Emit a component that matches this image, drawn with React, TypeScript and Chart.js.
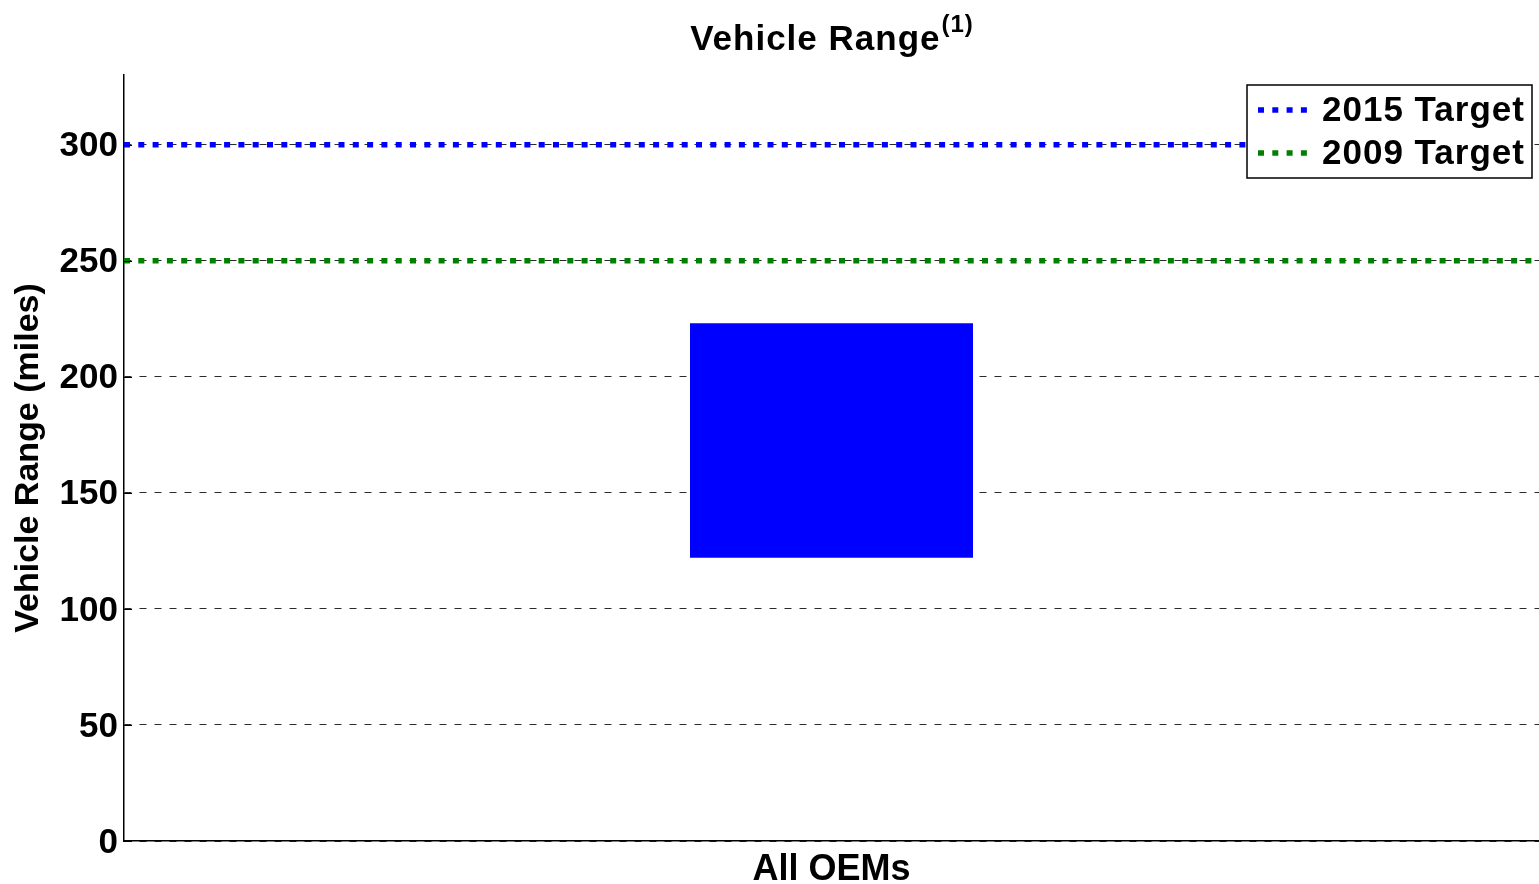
import React, { useEffect, useRef } from 'react';
import { Chart, registerables } from 'chart.js';

Chart.register(...registerables);

// ---- data ----
const categories = ['All OEMs'];
const rangeLow = [122];
const rangeHigh = [223];
const targetLabels = ['2015 Target', '2009 Target'];
const targetValues = [300, 250];
const targetColors = ['#0000ff', '#008000'];
const barColor = '#0000ff';
const yMin = 0;
const yMax = 330;
const yStep = 50;
const chartTitle = 'Vehicle Range';
const titleNote = '(1)';
const yAxisTitle = 'Vehicle Range (miles)';

const FONT = '"Liberation Sans", Arial, Helvetica, sans-serif';

const decorPlugin = {
  id: 'decor',
  afterDatasetsDraw(chart: any) {
    const { ctx, chartArea, scales } = chart;
    const y = scales.y;
    ctx.save();
    // inward tick marks on the y axis
    ctx.strokeStyle = '#000';
    ctx.lineWidth = 1;
    y.ticks.forEach((t: any) => {
      const py = Math.round(y.getPixelForValue(t.value)) + 0.5;
      ctx.beginPath();
      ctx.moveTo(chartArea.left, py);
      ctx.lineTo(chartArea.left + 8, py);
      ctx.stroke();
    });

    // title with superscript
    const cx = (chartArea.left + chartArea.right) / 2;
    ctx.fillStyle = '#000';
    ctx.textBaseline = 'alphabetic';
    ctx.textAlign = 'left';
    (ctx as any).letterSpacing = '1px';
    const mainFont = `bold 35px ${FONT}`;
    const supFont = `bold 24px ${FONT}`;
    ctx.font = mainFont;
    const w1 = ctx.measureText(chartTitle).width;
    ctx.font = supFont;
    const w2 = ctx.measureText(titleNote).width;
    const x0 = cx - (w1 + w2) / 2;
    ctx.font = mainFont;
    ctx.fillText(chartTitle, x0, 50);
    ctx.font = supFont;
    ctx.fillText(titleNote, x0 + w1 + 1, 32);

    // legend box
    const lines = chart.data.datasets.filter((d: any) => d.type === 'line');
    const boxW = 285;
    const boxH = 93;
    const bx = chartArea.right - 7 - boxW;
    const by = chartArea.top + 10;
    ctx.fillStyle = '#fff';
    ctx.fillRect(bx, by, boxW, boxH);
    ctx.strokeStyle = '#000';
    ctx.lineWidth = 1.5;
    ctx.strokeRect(bx, by, boxW, boxH);
    lines.forEach((d: any, i: number) => {
      const ry = by + 25 + i * 43;
      ctx.save();
      ctx.strokeStyle = d.borderColor;
      ctx.lineWidth = d.borderWidth;
      ctx.setLineDash(d.borderDash);
      ctx.lineCap = 'butt';
      ctx.beginPath();
      ctx.moveTo(bx + 11, ry);
      ctx.lineTo(bx + 64, ry);
      ctx.stroke();
      ctx.restore();
      ctx.fillStyle = '#000';
      ctx.font = `bold 35px ${FONT}`;
      (ctx as any).letterSpacing = '1px';
      ctx.textBaseline = 'middle';
      ctx.textAlign = 'left';
      ctx.fillText(d.label, bx + 75, ry + 1);
    });
    (ctx as any).letterSpacing = '0px';
    ctx.restore();
  },
};

export default function App() {
  const ref = useRef<HTMLCanvasElement | null>(null);

  useEffect(() => {
    document.body.style.margin = '0';
    const canvas = ref.current;
    if (!canvas) return;
    const chart = new Chart(canvas, {
      type: 'line',
      data: {
        labels: categories,
        datasets: [
          {
            type: 'bar',
            label: 'Range',
            data: categories.map((_, i) => [rangeLow[i], rangeHigh[i]]) as any,
            backgroundColor: barColor,
            borderWidth: 0,
            barPercentage: 0.2,
            categoryPercentage: 1,
            grouped: false,
            xAxisID: 'x',
            yAxisID: 'y',
          } as any,
          ...targetValues.map((v, i) => ({
            type: 'line',
            label: targetLabels[i],
            data: [
              { x: 0, y: v },
              { x: 1, y: v },
            ],
            xAxisID: 'xLine',
            yAxisID: 'y',
            borderColor: targetColors[i],
            borderWidth: 5.5,
            borderDash: [6, 8.3],
            borderCapStyle: 'butt',
            pointRadius: 0,
            fill: false,
            tension: 0,
          })) as any,
        ],
      },
      options: {
        responsive: false,
        animation: false,
        devicePixelRatio: 1,
        layout: { padding: { top: 75, left: 0, right: 0, bottom: 0 } },
        plugins: {
          legend: { display: false },
          title: { display: false },
          tooltip: { enabled: false },
        },
        scales: {
          x: {
            type: 'category',
            position: 'bottom',
            offset: true,
            grid: { display: false, drawTicks: false },
            border: { display: true, color: '#000', width: 1.5 },
            ticks: {
              color: '#000',
              padding: 7,
              font: { family: FONT, size: 36, weight: 'bold' },
            },
            afterFit: (s: any) => {
              s.height = 43;
            },
          },
          xLine: {
            type: 'linear',
            min: 0,
            max: 1,
            offset: false,
            display: false,
          },
          y: {
            type: 'linear',
            min: yMin,
            max: yMax,
            ticks: {
              stepSize: yStep,
              includeBounds: false,
              color: '#000',
              padding: 6,
              labelOffset: 2,
              font: { family: FONT, size: 35, weight: 'bold' },
            },
            grid: { color: '#2a2a2a', lineWidth: 1, drawTicks: false },
            border: { display: true, color: '#000', width: 1.5, dash: [7, 8] },
            title: {
              display: true,
              text: yAxisTitle,
              color: '#000',
              padding: { top: 8, bottom: 0 },
              font: { family: FONT, size: 34, weight: 'bold' },
            },
            afterFit: (s: any) => {
              s.width = 124;
            },
          },
        },
      } as any,
      plugins: [decorPlugin],
    });
    return () => chart.destroy();
  }, []);

  return (
    <div style={{ position: 'fixed', left: 0, top: 0, width: 1539, height: 884, background: '#fff' }}>
      <canvas ref={ref} width={1539} height={884} />
    </div>
  );
}
